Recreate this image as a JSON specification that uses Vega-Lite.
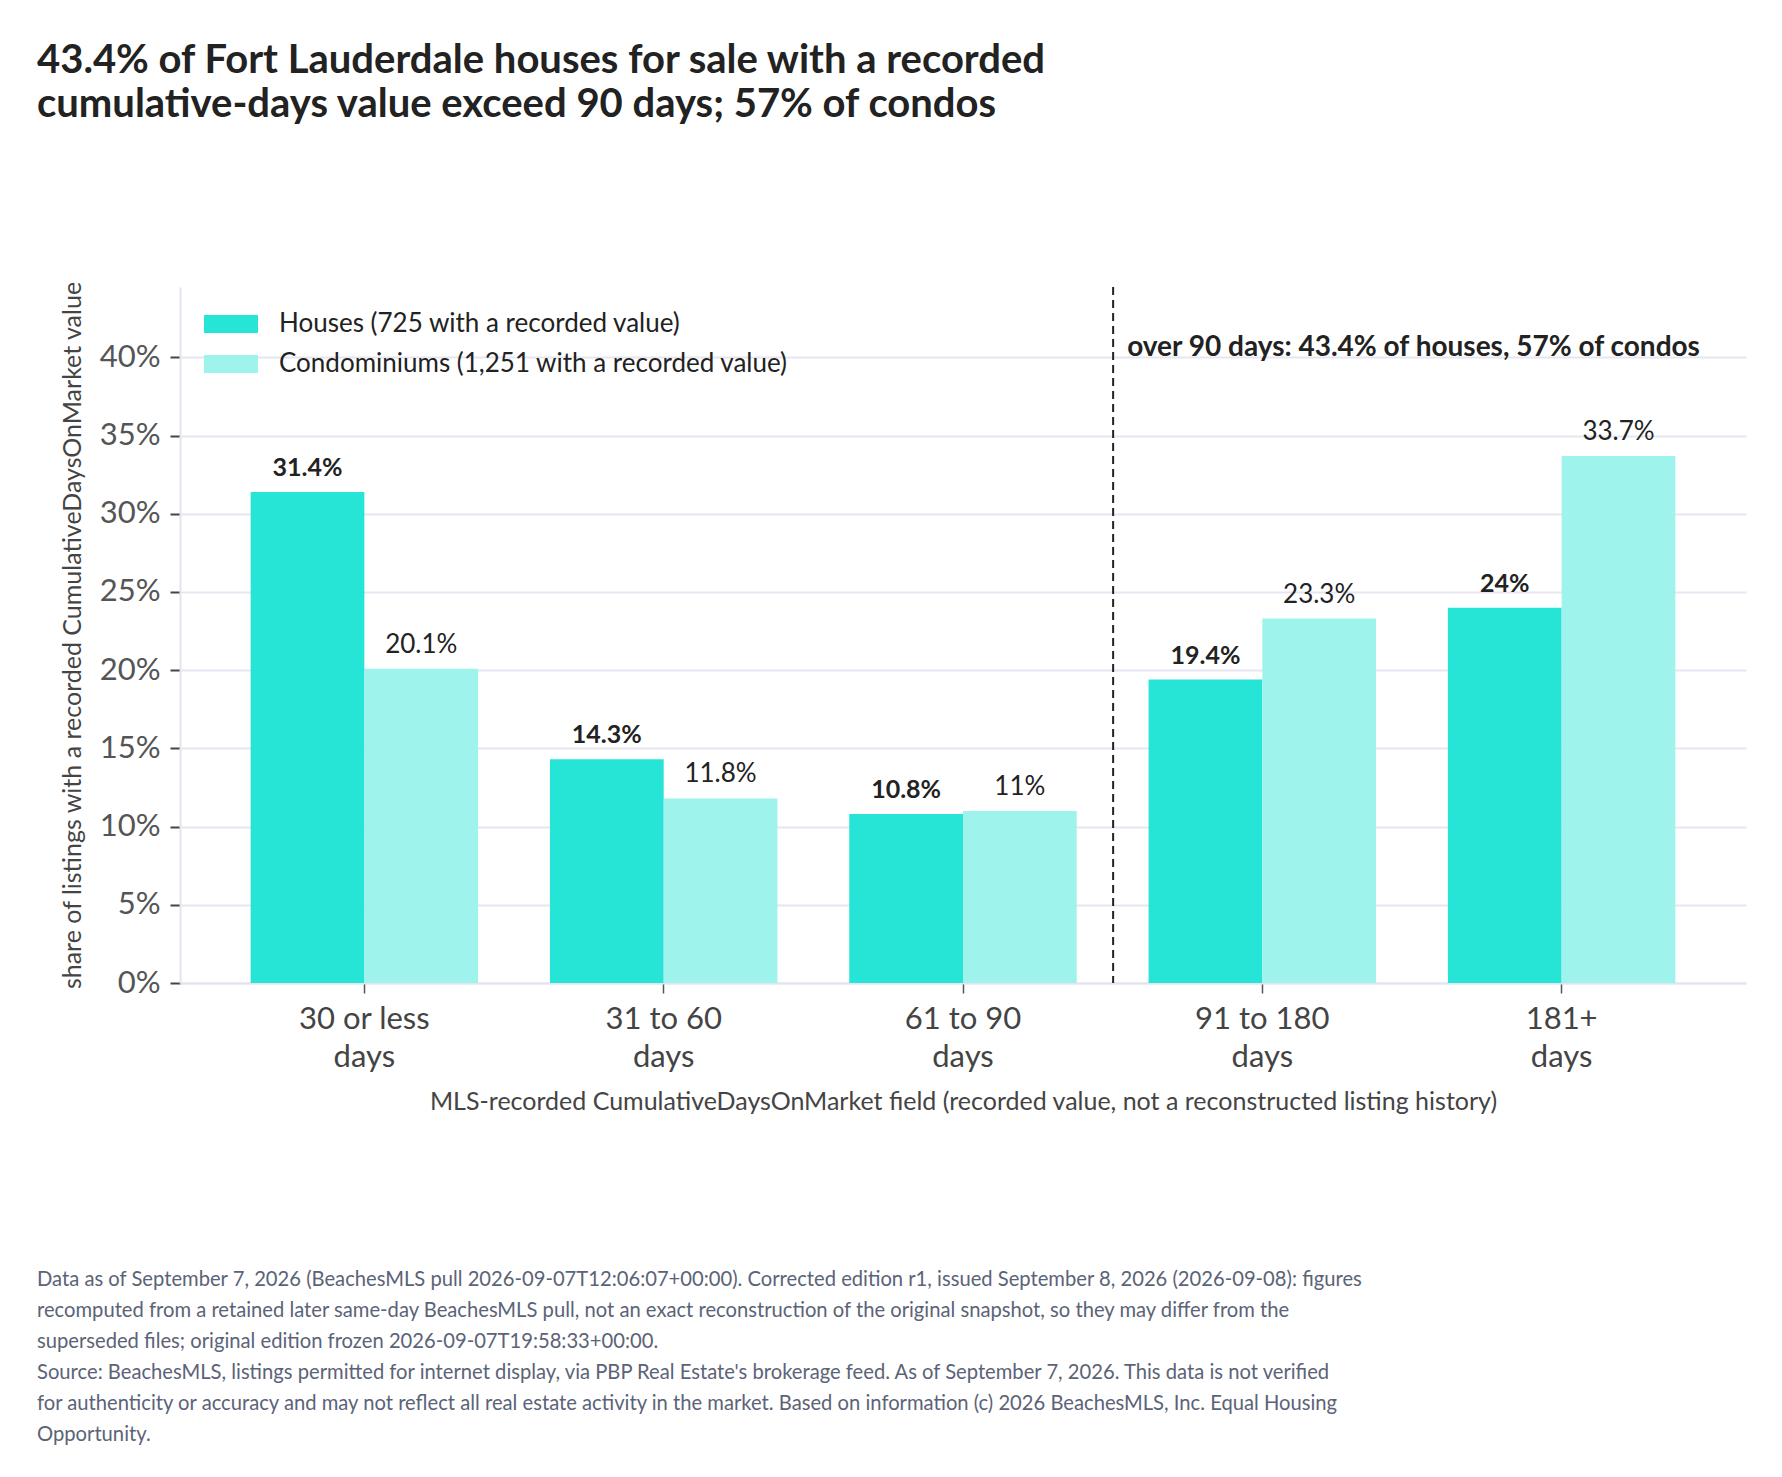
{
  "$schema": "https://vega.github.io/schema/vega-lite/v6.json",
  "background": "white",
  "padding": {"left": 37, "top": 40, "right": 20, "bottom": 20},
  "config": {"font": "Lato", "view": {"stroke": null}},
  "title": {
    "text": [
      "Data as of September 7, 2026 (BeachesMLS pull 2026-09-07T12:06:07+00:00). Corrected edition r1, issued September 8, 2026 (2026-09-08): figures",
      "recomputed from a retained later same-day BeachesMLS pull, not an exact reconstruction of the original snapshot, so they may differ from the",
      "superseded files; original edition frozen 2026-09-07T19:58:33+00:00.",
      "Source: BeachesMLS, listings permitted for internet display, via PBP Real Estate's brokerage feed. As of September 7, 2026. This data is not verified",
      "for authenticity or accuracy and may not reflect all real estate activity in the market. Based on information (c) 2026 BeachesMLS, Inc. Equal Housing",
      "Opportunity."
    ],
    "orient": "bottom",
    "anchor": "start",
    "frame": "group",
    "dx": -143,
    "fontSize": 20.2,
    "fontWeight": "normal",
    "color": "#5b6377",
    "lineHeight": 31,
    "offset": 156
  },
  "vconcat": [
    {
      "width": 1566,
      "height": 696,
      "title": {
        "text": [
          "43.4% of Fort Lauderdale houses for sale with a recorded",
          "cumulative-days value exceed 90 days; 57% of condos"
        ],
        "anchor": "start",
        "frame": "group",
        "dx": -143,
        "fontSize": 40,
        "fontWeight": "bold",
        "color": "#222222",
        "lineHeight": 44,
        "offset": 156
      },
      "data": {
        "values": [
          {"bucket": "30 or less days", "type": "Houses (725 with a recorded value)", "share": 0.314},
          {"bucket": "30 or less days", "type": "Condominiums (1,251 with a recorded value)", "share": 0.201},
          {"bucket": "31 to 60 days", "type": "Houses (725 with a recorded value)", "share": 0.143},
          {"bucket": "31 to 60 days", "type": "Condominiums (1,251 with a recorded value)", "share": 0.118},
          {"bucket": "61 to 90 days", "type": "Houses (725 with a recorded value)", "share": 0.108},
          {"bucket": "61 to 90 days", "type": "Condominiums (1,251 with a recorded value)", "share": 0.11},
          {"bucket": "91 to 180 days", "type": "Houses (725 with a recorded value)", "share": 0.194},
          {"bucket": "91 to 180 days", "type": "Condominiums (1,251 with a recorded value)", "share": 0.233},
          {"bucket": "181+ days", "type": "Houses (725 with a recorded value)", "share": 0.24},
          {"bucket": "181+ days", "type": "Condominiums (1,251 with a recorded value)", "share": 0.337}
        ]
      },
      "encoding": {
        "x": {
          "field": "bucket",
          "type": "nominal",
          "scale": {
            "domain": ["30 or less days", "31 to 60 days", "61 to 90 days", "91 to 180 days", "181+ days"],
            "paddingInner": 0.24,
            "paddingOuter": 0.236
          },
          "axis": {
            "title": "MLS-recorded CumulativeDaysOnMarket field (recorded value, not a reconstructed listing history)",
            "labelExpr": "[replace(datum.label, ' days', ''), 'days']",
            "labelAngle": 0,
            "labelFontSize": 31,
            "labelColor": "#444444",
            "labelLineHeight": 38,
            "labelPadding": 11,
            "tickColor": "#555555",
            "tickSize": 10,
            "tickWidth": 1.5,
            "domainColor": "#e3e4ef",
            "domainWidth": 2,
            "grid": false,
            "titleFontSize": 25,
            "titleColor": "#444444",
            "titleFontWeight": "normal",
            "titlePadding": 17
          }
        }
      },
      "layer": [
        {
          "mark": {"type": "bar"},
          "encoding": {
            "xOffset": {
              "field": "type",
              "type": "nominal",
              "scale": {
                "domain": ["Houses (725 with a recorded value)", "Condominiums (1,251 with a recorded value)"],
                "paddingInner": 0,
                "paddingOuter": 0
              }
            },
            "y": {
              "field": "share",
              "type": "quantitative",
              "scale": {"domain": [0, 0.445], "nice": false},
              "axis": {
                "title": "share of listings with a recorded CumulativeDaysOnMarket value",
                "values": [0, 0.05, 0.1, 0.15, 0.2, 0.25, 0.3, 0.35, 0.4],
                "format": ".0%",
                "labelFontSize": 31,
                "labelColor": "#555555",
                "labelPadding": 10,
                "tickColor": "#444444",
                "tickSize": 10,
                "tickWidth": 2,
                "gridColor": "#e6e6f1",
                "gridWidth": 2,
                "domainColor": "#e3e4ef",
                "domainWidth": 2,
                "titleFontSize": 25,
                "titleColor": "#444444",
                "titleFontWeight": "normal",
                "titlePadding": 14
              }
            },
            "color": {
              "field": "type",
              "type": "nominal",
              "scale": {
                "domain": ["Houses (725 with a recorded value)", "Condominiums (1,251 with a recorded value)"],
                "range": ["#26e5d6", "#9ef3ec"]
              },
              "legend": {
                "title": null,
                "orient": "none",
                "legendX": 38,
                "legendY": 24,
                "symbolType": "M-3,-1H3V1H-3Z",
                "symbolSize": 324,
                "symbolStrokeWidth": 0,
                "symbolOpacity": 1,
                "labelFontSize": 26,
                "labelColor": "#222222",
                "labelOffset": 35,
                "rowPadding": 14,
                "labelLimit": 800
              }
            }
          }
        },
        {
          "transform": [{"filter": "datum.type == 'Houses (725 with a recorded value)'"}],
          "mark": {"type": "text", "fontSize": 25, "fontWeight": "bold", "color": "#222222", "baseline": "alphabetic", "dy": -16},
          "encoding": {
            "xOffset": {
              "field": "type",
              "type": "nominal",
              "scale": {
                "domain": ["Houses (725 with a recorded value)", "Condominiums (1,251 with a recorded value)"],
                "paddingInner": 0,
                "paddingOuter": 0
              }
            },
            "y": {"field": "share", "type": "quantitative"},
            "text": {"field": "share", "type": "quantitative", "format": ".1~%"}
          }
        },
        {
          "transform": [{"filter": "datum.type != 'Houses (725 with a recorded value)'"}],
          "mark": {"type": "text", "fontSize": 26, "fontWeight": "normal", "color": "#222222", "baseline": "alphabetic", "dy": -16},
          "encoding": {
            "xOffset": {
              "field": "type",
              "type": "nominal",
              "scale": {
                "domain": ["Houses (725 with a recorded value)", "Condominiums (1,251 with a recorded value)"],
                "paddingInner": 0,
                "paddingOuter": 0
              }
            },
            "y": {"field": "share", "type": "quantitative"},
            "text": {"field": "share", "type": "quantitative", "format": ".1~%"}
          }
        },
        {
          "data": {"values": [{"bucket": "61 to 90 days", "note": "over 90 days: 43.4% of houses, 57% of condos"}]},
          "mark": {"type": "rule", "strokeDash": [8, 5], "strokeWidth": 2, "color": "#222222"},
          "encoding": {
            "x": {"field": "bucket", "type": "nominal", "bandPosition": 1.16}
          }
        },
        {
          "data": {"values": [{"bucket": "61 to 90 days", "note": "over 90 days: 43.4% of houses, 57% of condos"}]},
          "mark": {"type": "text", "fontSize": 28, "fontWeight": "bold", "color": "#222222", "align": "left", "baseline": "alphabetic", "dx": 14, "dy": -1},
          "encoding": {
            "x": {"field": "bucket", "type": "nominal", "bandPosition": 1.16},
            "y": {"datum": 0.4, "type": "quantitative"},
            "text": {"field": "note"}
          }
        }
      ]
    }
  ]
}
